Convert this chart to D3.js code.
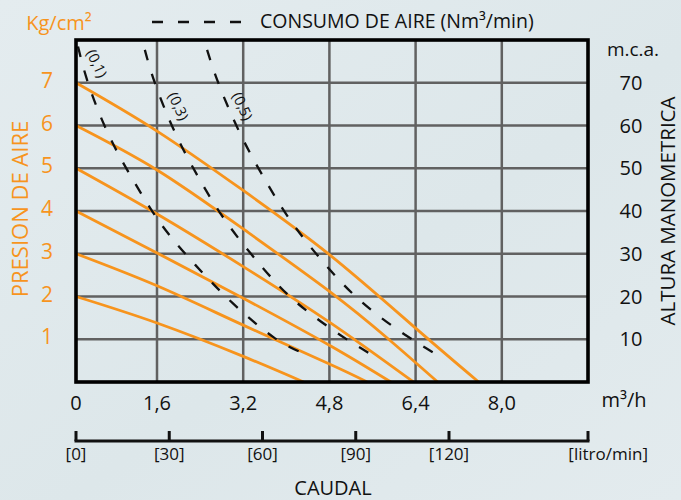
<!DOCTYPE html>
<html>
<head>
<meta charset="utf-8">
<script src="https://cdn.jsdelivr.net/npm/d3@7"></script>
<style>
    body { margin: 0; background: #e1eaed; }
    svg { display: block; font-family: "Open Sans", sans-serif; }
</style>
</head>
<body>
<svg id="chart" width="681" height="500"></svg>
<script>
(function() {
    'use strict';

    // eje de caudal (m3/h) y (litro/min)
    var caudalTicks = [0, 1.6, 3.2, 4.8, 6.4, 8.0];
    var caudalLabels = ['0', '1,6', '3,2', '4,8', '6,4', '8,0'];
    var litroTicks = [0, 30, 60, 90, 120];
    // presion de aire (kg/cm2) y altura manometrica (m.c.a.)
    var presionTicks = [1, 2, 3, 4, 5, 6, 7];
    var alturaTicks = [10, 20, 30, 40, 50, 60, 70];

    // curvas por presion de aire: [caudal m3/h, presion kg/cm2]
    var presion2 = [[0, 2], [1.6, 1.38], [3.2, 0.6], [4.32, 0]];
    var presion3 = [[0, 3], [1.6, 2.25], [3.2, 1.33], [4.8, 0.42], [5.5, 0]];
    var presion4 = [[0, 4], [1.6, 3.02], [3.2, 1.96], [4.8, 0.86], [5.94, 0]];
    var presion5 = [[0, 5], [1.6, 3.93], [3.2, 2.70], [4.8, 1.40], [6.36, 0]];
    var presion6 = [[0, 6], [1.6, 4.96], [3.2, 3.58], [4.8, 2.12], [5.9, 1.0], [6.81, 0]];
    var presion7 = [[0, 7], [1.6, 5.87], [3.2, 4.48], [4.8, 2.98], [6.4, 1.26], [7.57, 0]];

    // consumo de aire (Nm3/min)
    var consumo01 = [[0.04, 7.85], [0.24, 6.99], [0.63, 5.82], [1.13, 4.72], [1.69, 3.67],
                     [2.31, 2.74], [3.0, 1.85], [3.76, 1.05], [4.3, 0.68]];
    var consumo03 = [[1.36, 7.77], [1.56, 6.99], [1.94, 5.82], [2.40, 4.72], [2.90, 3.72],
                     [3.55, 2.69], [4.20, 1.85], [5.0, 1.10], [5.53, 0.68]];
    var consumo05 = [[2.53, 7.77], [2.74, 6.99], [3.14, 5.82], [3.61, 4.72], [4.11, 3.72],
                     [4.73, 2.74], [5.42, 1.85], [6.21, 1.10], [6.74, 0.68]];
    var consumoNames = ['(0,1)', '(0,3)', '(0,5)'];
    var consumoLabelAt = [7.45, 6.45, 6.45];

    var presiones = [presion2, presion3, presion4, presion5, presion6, presion7];
    var consumos = [consumo01, consumo03, consumo05];

    var orange = '#f7941d';
    var svg = d3.select('#chart');

    // the first grid column of the original is a little narrower
    var x = d3.scaleLinear().domain([0, 1.6, 9.6]).range([76, 157, 588]);
    var y = d3.scaleLinear().domain([0, 8]).range([382, 40]);
    var yAltura = d3.scaleLinear().domain([0, 80]).range([382, 40]);
    var xLitro = d3.scaleLinear().domain([0, 120]).range([76, 449]);

    // fondo
    var grad = svg.append('defs').append('linearGradient')
        .attr('id', 'bg')
        .attr('x1', '0%').attr('y1', '0%')
        .attr('x2', '100%').attr('y2', '100%');
    grad.append('stop').attr('offset', '0%').attr('stop-color', '#e4ecef');
    grad.append('stop').attr('offset', '55%').attr('stop-color', '#dde7ea');
    grad.append('stop').attr('offset', '100%').attr('stop-color', '#e3ebee');
    svg.append('rect')
        .attr('width', 681).attr('height', 500)
        .attr('fill', 'url(#bg)');

    // rejilla
    var grid = svg.append('g')
        .attr('stroke', '#616161')
        .attr('stroke-width', 2.5);
    grid.selectAll('line.v')
        .data(caudalTicks.slice(1))
        .enter().append('line')
        .attr('class', 'v')
        .attr('x1', function(d) { return x(d); })
        .attr('x2', function(d) { return x(d); })
        .attr('y1', y(8))
        .attr('y2', y(0));
    grid.selectAll('line.h')
        .data(presionTicks)
        .enter().append('line')
        .attr('class', 'h')
        .attr('x1', x(0))
        .attr('x2', x(9.6))
        .attr('y1', function(d) { return y(d); })
        .attr('y2', function(d) { return y(d); });

    var line = d3.line()
        .x(function(d) { return x(d[0]); })
        .y(function(d) { return y(d[1]); })
        .curve(d3.curveNatural);

    svg.append('g').selectAll('path')
        .data(presiones)
        .enter().append('path')
        .attr('d', line)
        .attr('fill', 'none')
        .attr('stroke', orange)
        .attr('stroke-width', 2.8);

    svg.append('g').selectAll('path')
        .data(consumos)
        .enter().append('path')
        .attr('d', line)
        .attr('fill', 'none')
        .attr('stroke', '#111')
        .attr('stroke-width', 2.3)
        .attr('stroke-dasharray', '11,14');

    // caudal en la curva para una presion dada
    var caudalAt = function(curve, p) {
        for (var i = 0; i < curve.length - 1; i++) {
            var a = curve[i], b = curve[i + 1];
            if (p <= a[1] && p >= b[1]) {
                return a[0] + (b[0] - a[0]) * (a[1] - p) / (a[1] - b[1]);
            }
        }
        return curve[0][0];
    };

    svg.append('g').selectAll('text')
        .data(consumos)
        .enter().append('text')
        .attr('transform', function(d, i) {
            var p = consumoLabelAt[i];
            return 'translate(' + (x(caudalAt(d, p)) + 14) + ',' + y(p) + ') rotate(65)';
        })
        .attr('text-anchor', 'middle')
        .attr('dy', '0.35em')
        .attr('font-size', 14.5)
        .attr('fill', '#111')
        .text(function(d, i) { return consumoNames[i]; });

    // marco
    svg.append('rect')
        .attr('x', x(0)).attr('y', y(8))
        .attr('width', x(9.6) - x(0))
        .attr('height', y(0) - y(8))
        .attr('fill', 'none')
        .attr('stroke', '#000')
        .attr('stroke-width', 3.6);

    // eje izquierdo
    svg.append('g').selectAll('text')
        .data(presionTicks)
        .enter().append('text')
        .attr('x', 47)
        .attr('y', function(d) { return y(d) + 5; })
        .attr('text-anchor', 'middle')
        .attr('font-size', 21)
        .attr('fill', orange)
        .text(function(d) { return d; });

    svg.append('text')
        .attr('x', 59).attr('y', 30)
        .attr('text-anchor', 'middle')
        .attr('font-size', 20)
        .attr('fill', orange)
        .text('Kg/cm²');

    svg.append('text')
        .attr('transform', 'translate(28,209) rotate(-90)')
        .attr('text-anchor', 'middle')
        .attr('font-size', 22)
        .attr('fill', orange)
        .text('PRESION DE AIRE');

    // eje derecho
    svg.append('g').selectAll('text')
        .data(alturaTicks)
        .enter().append('text')
        .attr('x', 631)
        .attr('y', function(d) { return yAltura(d) + 7; })
        .attr('text-anchor', 'middle')
        .attr('font-size', 20)
        .attr('fill', '#111')
        .text(function(d) { return d; });

    svg.append('text')
        .attr('x', 633).attr('y', 56)
        .attr('text-anchor', 'middle')
        .attr('font-size', 19)
        .attr('fill', '#111')
        .text('m.c.a.');

    svg.append('text')
        .attr('transform', 'translate(675,211) rotate(-90)')
        .attr('text-anchor', 'middle')
        .attr('font-size', 20.5)
        .attr('fill', '#111')
        .text('ALTURA MANOMETRICA');

    // leyenda
    svg.append('line')
        .attr('x1', 152).attr('x2', 244)
        .attr('y1', 22).attr('y2', 22)
        .attr('stroke', '#111')
        .attr('stroke-width', 2.3)
        .attr('stroke-dasharray', '11,15');
    svg.append('text')
        .attr('x', 260).attr('y', 28)
        .attr('font-size', 19.5)
        .attr('fill', '#111')
        .text('CONSUMO DE AIRE (Nm³/min)');

    // eje inferior m3/h
    svg.append('g').selectAll('text')
        .data(caudalTicks)
        .enter().append('text')
        .attr('x', function(d) { return x(d); })
        .attr('y', 410)
        .attr('text-anchor', 'middle')
        .attr('font-size', 20)
        .attr('fill', '#111')
        .text(function(d, i) { return caudalLabels[i]; });

    svg.append('text')
        .attr('x', 624).attr('y', 407)
        .attr('text-anchor', 'middle')
        .attr('font-size', 20)
        .attr('fill', '#111')
        .text('m³/h');

    // eje inferior litro/min
    var litro = svg.append('g')
        .attr('stroke', '#111')
        .attr('stroke-width', 3);
    litro.append('line')
        .attr('x1', xLitro(0) - 1.5).attr('x2', x(9.6) + 1.5)
        .attr('y1', 441).attr('y2', 441);
    litro.selectAll('line.tick')
        .data(litroTicks)
        .enter().append('line')
        .attr('class', 'tick')
        .attr('x1', function(d) { return xLitro(d); })
        .attr('x2', function(d) { return xLitro(d); })
        .attr('y1', 441).attr('y2', 431);
    litro.append('line')
        .attr('x1', x(9.6)).attr('x2', x(9.6))
        .attr('y1', 441).attr('y2', 431);

    svg.append('g').selectAll('text')
        .data(litroTicks)
        .enter().append('text')
        .attr('x', function(d) { return xLitro(d); })
        .attr('y', 460)
        .attr('text-anchor', 'middle')
        .attr('font-size', 17)
        .attr('fill', '#111')
        .text(function(d) { return '[' + d + ']'; });

    svg.append('text')
        .attr('x', 648).attr('y', 460)
        .attr('text-anchor', 'end')
        .attr('font-size', 17)
        .attr('fill', '#111')
        .text('[litro/min]');

    svg.append('text')
        .attr('x', 333).attr('y', 495)
        .attr('text-anchor', 'middle')
        .attr('font-size', 20)
        .attr('fill', '#111')
        .text('CAUDAL');
})();
</script>
</body>
</html>
